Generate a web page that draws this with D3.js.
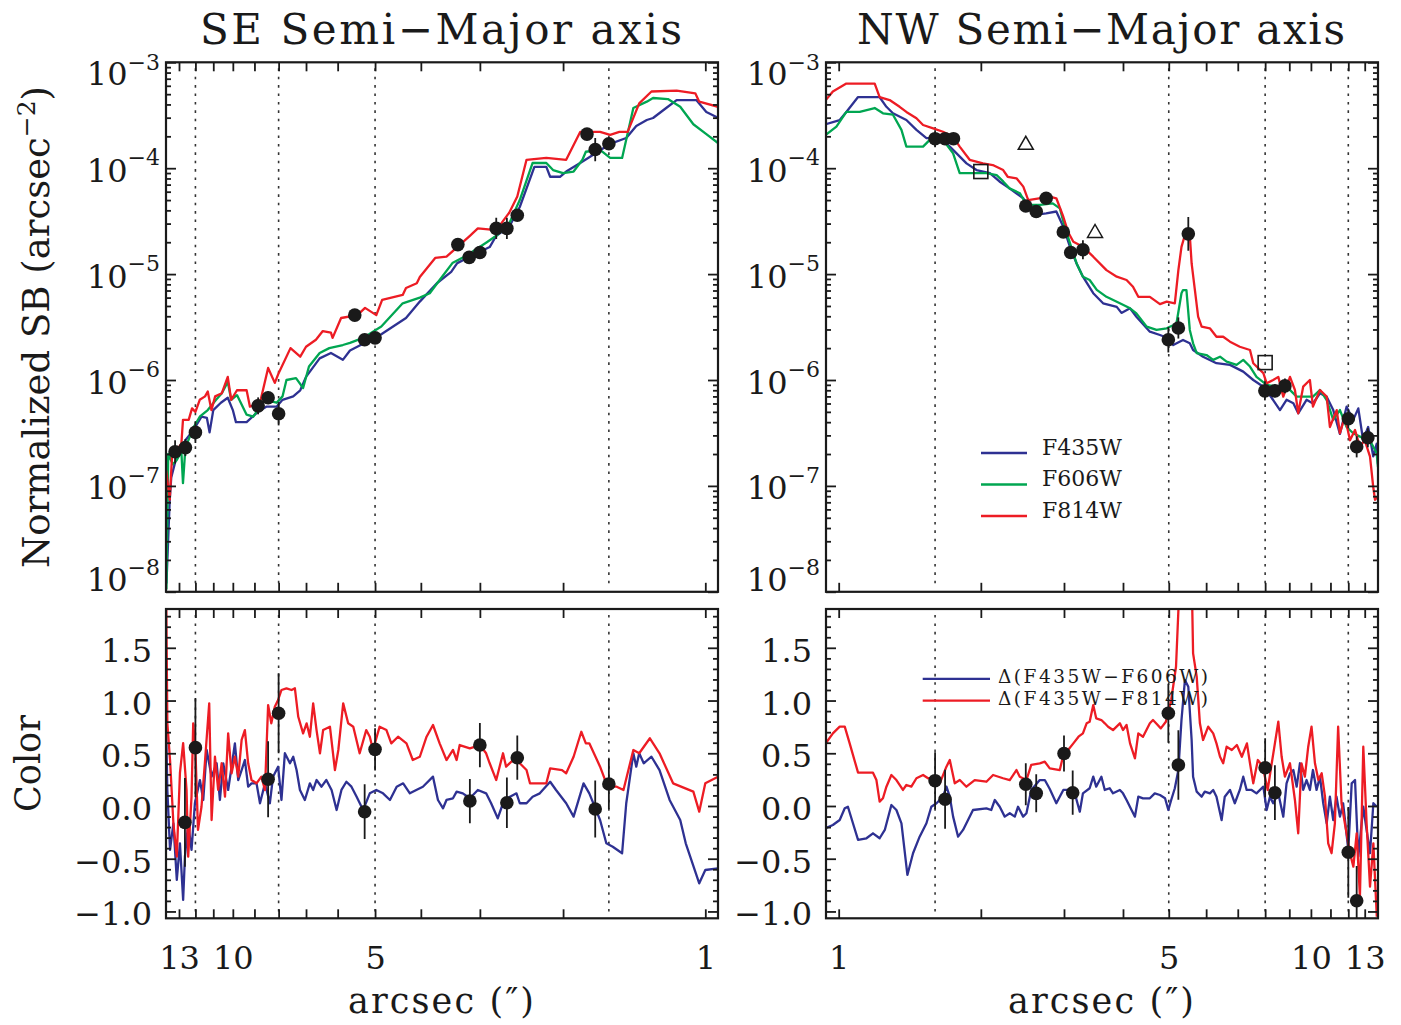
<!DOCTYPE html>
<html><head><meta charset="utf-8">
<script src="https://cdn.jsdelivr.net/npm/d3@7"></script>
<style>
body{margin:0;background:#fff;}
text{font-family:"DejaVu Serif",serif;fill:#1a1a1a;}
</style>
</head><body>
<svg id="c" width="1401" height="1025"></svg>
<script>
// ---------------- DATA ----------------
const xTickVals = [1,2,3,4,5,6,7,8,9,10,11,12,13];
const xLabelValsSE = [13,10,5,1];
const xLabelValsNW = [1,5,10,13];
const dottedR = [12, 8, 5, 1.6];
const sbTickVals = [1e-8,1e-7,1e-6,1e-5,1e-4,1e-3];
const sbTickExp = ["−8","−7","−6","−5","−4","−3"];
const colorTickVals = [-1.0,-0.5,0.0,0.5,1.0,1.5];
const legendSB = ["F435W","F606W","F814W"];
const legendColor = ["Δ(F435W−F606W)","Δ(F435W−F814W)"];

// SE semi-major axis, surface brightness [arcsec, SB]
const seF435 = [[13.82,1.2e-8],[13.6,7.4e-8],[13.5,1.2e-7],[13.15,1.9e-7],[12.6,2.7e-7],[12.1,3.4e-7],[11.65,4.5e-7],[11.35,4.4e-7],[11.2,3.2e-7],[11.0,5.2e-7],[10.6,6.1e-7],[10.25,6.8e-7],[10.0,5.2e-7],[9.85,4.0e-7],[9.35,4.0e-7],[8.9,4.9e-7],[8.5,5.6e-7],[8.08,5.6e-7],[7.85,6.5e-7],[7.45,7.0e-7],[7.2,8.0e-7],[7.0,1.07e-6],[6.55,1.6e-6],[6.2,1.8e-6],[5.85,1.55e-6],[5.65,1.9e-6],[5.3,2.2e-6],[4.85,2.7e-6],[4.3,3.85e-6],[4.02,5.5e-6],[3.7,8.2e-6],[3.45,1.05e-5],[3.35,1.27e-5],[3.15,1.46e-5],[2.86,1.8e-5],[2.77,2.3e-5],[2.6,2.8e-5],[2.47,4.3e-5],[2.3,1.03e-4],[2.17,1.03e-4],[2.13,8.3e-5],[2.03,8.3e-5],[1.97,9.3e-5],[1.84,1.12e-4],[1.7,1.4e-4],[1.59,1.7e-4],[1.47,1.93e-4],[1.4,2.5e-4],[1.33,2.85e-4],[1.29,2.98e-4],[1.21,3.7e-4],[1.15,4.4e-4],[1.045,4.4e-4],[0.995,3.4e-4],[0.94,3.0e-4]];
const seF606 = [[13.82,1.05e-8],[13.7,2.0e-7],[13.4,1.6e-7],[13.15,1.75e-7],[12.85,2.1e-7],[12.75,1.06e-7],[12.6,2.3e-7],[12.1,3.6e-7],[11.75,4.5e-7],[11.3,5.2e-7],[10.85,6.5e-7],[10.55,7.5e-7],[10.25,9.6e-7],[10.08,6.5e-7],[9.8,7.2e-7],[9.35,4.7e-7],[9.05,4.5e-7],[8.76,5.6e-7],[8.55,6.5e-7],[8.08,6.1e-7],[7.85,7.0e-7],[7.7,1.0e-6],[7.35,1.04e-6],[7.1,8.4e-7],[6.9,1.34e-6],[6.55,1.8e-6],[6.25,2.0e-6],[5.85,2.14e-6],[5.65,2.24e-6],[5.3,2.5e-6],[4.85,3.2e-6],[4.37,5.3e-6],[4.02,6.0e-6],[3.83,6.6e-6],[3.65,8.8e-6],[3.43,1.27e-5],[3.2,1.5e-5],[2.9,2.0e-5],[2.77,2.3e-5],[2.6,3.0e-5],[2.47,5.0e-5],[2.32,1.12e-4],[2.17,1.12e-4],[2.1,9.6e-5],[2.0,9.0e-5],[1.9,9.3e-5],[1.82,1.2e-4],[1.79,1.43e-4],[1.67,1.49e-4],[1.59,1.25e-4],[1.5,1.25e-4],[1.42,3.7e-4],[1.33,4.25e-4],[1.29,4.6e-4],[1.2,4.5e-4],[1.13,3.8e-4],[1.06,2.6e-4],[0.995,2.1e-4],[0.94,1.73e-4]];
const seF814 = [[13.84,1.4e-7],[13.6,7.4e-8],[13.45,1.9e-7],[12.85,2.5e-7],[12.75,4.2e-7],[12.4,4.2e-7],[12.2,5.4e-7],[12.0,5.0e-7],[11.75,6.5e-7],[11.45,7.0e-7],[11.3,7.8e-7],[11.1,5.2e-7],[10.9,7.0e-7],[10.55,7.5e-7],[10.25,1.07e-6],[10.08,6.5e-7],[9.8,8.0e-7],[9.35,8.0e-7],[9.2,5.6e-7],[8.76,6.1e-7],[8.42,1.3e-6],[8.15,9.4e-7],[8.0,1.16e-6],[7.55,2.0e-6],[7.2,1.66e-6],[7.0,2.06e-6],[6.67,2.4e-6],[6.45,2.9e-6],[6.2,2.8e-6],[6.15,2.5e-6],[5.9,3.85e-6],[5.45,4.1e-6],[5.25,4.8e-6],[4.97,4.1e-6],[4.83,5.7e-6],[4.37,6.35e-6],[4.3,7.4e-6],[4.08,8.2e-6],[4.02,9.4e-6],[3.73,1.42e-5],[3.53,1.46e-5],[3.15,2.3e-5],[3.03,2.7e-5],[2.77,2.6e-5],[2.6,3.8e-5],[2.5,5.4e-5],[2.39,1.2e-4],[2.17,1.25e-4],[1.97,1.2e-4],[1.84,2.2e-4],[1.67,2.2e-4],[1.59,2.06e-4],[1.52,2.2e-4],[1.46,2.2e-4],[1.38,4.1e-4],[1.3,5.3e-4],[1.15,5.4e-4],[1.05,5.1e-4],[1.03,4.25e-4],[0.94,3.8e-4]];
// SE photometric points
const seDotR  = [13.25,12.6,12.0,8.84,8.42,8.0,5.52,5.26,5.0,3.34,3.16,3.0,2.77,2.63,2.5,1.78,1.71,1.60];
const seDotSB = [2.1e-7,2.3e-7,3.2e-7,5.7e-7,6.8e-7,4.8e-7,4.1e-6,2.4e-6,2.5e-6,1.9e-5,1.44e-5,1.6e-5,2.7e-5,2.7e-5,3.6e-5,2.1e-4,1.5e-4,1.7e-4];
const seDotErr = [0.11,0.08,0.10,0.08,0.06,0.11,0.03,0.05,0.04,0.06,0.05,0.05,0.10,0.10,0.05,0.04,0.11,0.05]; // dex
// SE colour profiles [arcsec, colour]
const seC606 = [[13.84,0.752],[13.76,0.152],[13.58,-0.417],[13.36,-0.164],[13.14,-0.701],[12.94,-0.354],[12.74,-0.891],[12.63,-0.481],[12.43,-0.164],[12.23,-0.417],[12.03,0.026],[11.74,0.246],[11.55,0.057],[11.36,0.531],[11.09,0.278],[10.82,0.405],[10.65,0.057],[10.48,0.405],[10.23,0.152],[10.06,0.373],[9.9,0.594],[9.74,0.246],[9.58,0.341],[9.43,0.436],[9.28,0.183],[9.13,0.215],[8.91,0.215],[8.76,0.026],[8.55,0.215],[8.35,0.026],[8.22,0.278],[8.02,0.373],[7.89,0.057],[7.76,0.5],[7.57,0.405],[7.45,0.467],[7.33,0.341],[7.21,0.152],[7.04,0.057],[6.87,0.215],[6.76,0.152],[6.65,0.246],[6.49,0.183],[6.34,0.246],[6.18,0.152],[6.03,-0.038],[5.89,0.152],[5.75,0.23],[5.61,0.183],[5.47,0.088],[5.3,-0.038],[5.13,0.12],[4.97,0.152],[4.81,0.12],[4.65,0.057],[4.5,0.183],[4.36,0.215],[4.22,0.12],[4.09,0.152],[3.96,0.183],[3.77,0.278],[3.68,0.057],[3.59,-0.022],[3.53,0.057],[3.42,0.073],[3.36,0.136],[3.26,0.12],[3.15,0.073],[3.03,0.152],[2.91,0.12],[2.84,0.026],[2.75,-0.117],[2.68,0.026],[2.59,0.088],[2.51,0.12],[2.47,0.026],[2.39,0.026],[2.32,0.088],[2.24,0.12],[2.13,0.23],[2.07,0.152],[1.97,0.026],[1.9,-0.101],[1.81,0.215],[1.76,0.12],[1.67,-0.133],[1.62,-0.354],[1.57,-0.386],[1.5,-0.448],[1.47,0.026],[1.42,0.5],[1.4,0.373],[1.38,0.5],[1.35,0.405],[1.3,0.467],[1.25,0.341],[1.19,0.057],[1.13,-0.133],[1.1,-0.354],[1.03,-0.733],[1.0,-0.607],[0.94,-0.591]];
const seC814 = [[13.85,2.2],[13.76,0.784],[13.58,0.436],[13.36,-0.164],[13.14,-0.481],[12.94,0.313],[12.74,0.597],[12.53,0.152],[12.43,-0.481],[12.23,0.088],[12.13,0.784],[12.0,0.531],[11.85,-0.227],[11.65,-0.007],[11.46,0.408],[11.22,0.973],[11.09,-0.133],[10.91,0.467],[10.74,0.152],[10.56,0.405],[10.39,0.088],[10.23,0.689],[10.06,0.31],[9.9,0.467],[9.74,0.278],[9.58,0.626],[9.43,0.72],[9.28,0.405],[9.13,0.246],[8.91,0.215],[8.7,0.278],[8.55,0.152],[8.42,0.957],[8.29,0.784],[8.15,0.941],[8.02,1.005],[7.89,1.1],[7.7,1.116],[7.51,1.1],[7.39,1.116],[7.27,0.846],[7.1,0.689],[6.98,0.784],[6.87,0.657],[6.76,0.973],[6.65,0.72],[6.54,0.5],[6.44,0.72],[6.23,0.752],[6.08,0.341],[5.98,0.531],[5.84,0.973],[5.7,0.784],[5.56,0.752],[5.39,0.5],[5.22,0.72],[5.13,0.657],[5.05,0.531],[4.89,0.752],[4.73,0.72],[4.62,0.594],[4.47,0.657],[4.29,0.594],[4.16,0.436],[4.02,0.467],[3.89,0.657],[3.77,0.768],[3.65,0.594],[3.53,0.436],[3.42,0.531],[3.36,0.436],[3.31,0.578],[3.15,0.547],[3.0,0.578],[2.91,0.5],[2.86,0.405],[2.77,0.246],[2.68,0.5],[2.64,0.373],[2.51,0.467],[2.47,0.405],[2.39,0.341],[2.35,0.215],[2.17,0.215],[2.13,0.357],[2.01,0.341],[1.97,0.31],[1.9,0.467],[1.83,0.704],[1.79,0.594],[1.76,0.594],[1.67,0.373],[1.61,0.183],[1.54,0.183],[1.49,0.152],[1.42,0.531],[1.38,0.5],[1.31,0.642],[1.25,0.5],[1.17,0.215],[1.06,0.136],[1.03,-0.054],[1.0,0.215],[0.94,0.278]];
const seColR   = [12.63,12.0,8.42,8.0,5.26,5.0,3.15,3.0,2.63,2.5,1.71,1.6];
const seColV   = [-0.155,0.553,0.253,0.879,-0.054,0.537,0.047,0.578,0.031,0.458,-0.028,0.209];
const seColErr = [0.42,0.47,0.36,0.38,0.26,0.20,0.21,0.21,0.24,0.21,0.27,0.24];

// NW semi-major axis, surface brightness [arcsec, SB]
const nwF435 = [[0.939,2.6e-4],[1.005,2.85e-4],[1.038,3.4e-4],[1.099,4.7e-4],[1.22,4.7e-4],[1.262,3.8e-4],[1.303,3.3e-4],[1.391,2.85e-4],[1.461,2.3e-4],[1.534,1.92e-4],[1.6,1.92e-4],[1.663,1.85e-4],[1.747,1.49e-4],[1.865,1.11e-4],[1.958,9.6e-5],[2.09,9.0e-5],[2.19,7.5e-5],[2.3,6.45e-5],[2.46,5.2e-5],[2.58,3.6e-5],[2.75,3.75e-5],[2.89,3.9e-5],[2.99,2.8e-5],[3.09,1.8e-5],[3.19,1.26e-5],[3.29,9.45e-6],[3.46,6.6e-6],[3.63,5.3e-6],[3.88,4.9e-6],[3.97,4.3e-6],[4.14,4.75e-6],[4.27,3.96e-6],[4.56,2.86e-6],[4.79,2.66e-6],[4.99,2.48e-6],[5.11,2.14e-6],[5.36,2.39e-6],[5.54,2.22e-6],[5.63,1.92e-6],[5.91,1.66e-6],[6.31,1.44e-6],[6.74,1.39e-6],[7.19,1.2e-6],[7.55,1.0e-6],[7.93,8.65e-7],[8.32,6.47e-7],[8.6,5.2e-7],[8.88,6.5e-7],[9.18,6.03e-7],[9.4,4.85e-7],[9.79,6.5e-7],[10.1,6.0e-7],[10.45,7.5e-7],[10.8,6.96e-7],[11.15,5.2e-7],[11.52,3.1e-7],[11.9,5.6e-7],[12.29,4.2e-7],[12.6,5.4e-7],[12.9,2.7e-7],[13.22,3.6e-7],[13.55,1.9e-7],[13.78,2.5e-7],[13.87,1.6e-7]];
const nwF606 = [[0.939,2.06e-4],[0.989,2.47e-4],[1.038,3.4e-4],[1.108,3.4e-4],[1.192,3.7e-4],[1.241,3.3e-4],[1.303,3.2e-4],[1.358,2.3e-4],[1.391,1.6e-4],[1.509,1.6e-4],[1.559,1.85e-4],[1.663,1.85e-4],[1.747,1.38e-4],[1.804,9.0e-5],[2.055,9.0e-5],[2.16,8.6e-5],[2.23,7.5e-5],[2.3,6.45e-5],[2.42,5.8e-5],[2.5,4.5e-5],[2.67,4.5e-5],[2.84,4.66e-5],[2.94,4.18e-5],[3.01,2.8e-5],[3.09,1.95e-5],[3.19,1.26e-5],[3.29,9.45e-6],[3.4,8.8e-6],[3.52,7.1e-6],[3.69,6.1e-6],[3.94,5.3e-6],[4.14,4.75e-6],[4.27,4.26e-6],[4.49,3.19e-6],[4.71,2.97e-6],[4.95,3.08e-6],[5.19,3.4e-6],[5.32,6.6e-6],[5.36,7.07e-6],[5.45,7.07e-6],[5.54,2.97e-6],[5.63,2.22e-6],[5.73,1.79e-6],[6.01,1.72e-6],[6.21,1.55e-6],[6.42,1.66e-6],[6.63,1.49e-6],[6.96,1.39e-6],[7.19,1.55e-6],[7.43,1.34e-6],[7.67,1.07e-6],[8.06,9.0e-7],[8.46,8.65e-7],[8.88,8.65e-7],[9.33,6.96e-7],[10.1,6.96e-7],[10.45,8.05e-7],[10.8,6.47e-7],[11.15,4.2e-7],[11.52,5.2e-7],[11.9,3.6e-7],[12.29,3.14e-7],[12.7,2.92e-7],[13.1,2.7e-7],[13.45,2.5e-7],[13.78,2.03e-7],[13.87,1.5e-7]];
const nwF814 = [[0.939,4.4e-4],[0.972,5.3e-4],[1.038,6.3e-4],[1.192,6.3e-4],[1.221,4.7e-4],[1.282,4.4e-4],[1.346,3.8e-4],[1.391,3.4e-4],[1.461,2.96e-4],[1.509,2.56e-4],[1.585,2.38e-4],[1.663,2.21e-4],[1.747,1.98e-4],[1.804,1.6e-4],[1.894,1.2e-4],[2.02,1.11e-4],[2.12,1.07e-4],[2.23,9.6e-5],[2.28,8.3e-5],[2.38,8.03e-5],[2.46,6.7e-5],[2.52,5.0e-5],[2.8,5.38e-5],[2.89,5.2e-5],[2.99,3.48e-5],[3.06,2.5e-5],[3.14,2.02e-5],[3.29,1.81e-5],[3.46,1.46e-5],[3.69,1.09e-5],[3.88,9.45e-6],[4.07,8.8e-6],[4.2,7.6e-6],[4.31,6.1e-6],[4.56,6.1e-6],[4.79,5.2e-6],[4.95,5.5e-6],[5.15,5.3e-6],[5.24,1.09e-5],[5.32,1.81e-5],[5.41,2.34e-5],[5.54,2.34e-5],[5.59,1.26e-5],[5.68,7.07e-6],[5.77,3.96e-6],[5.87,3.19e-6],[6.11,3.08e-6],[6.31,2.56e-6],[6.52,2.56e-6],[6.74,2.3e-6],[7.07,2.06e-6],[7.43,1.92e-6],[7.55,1.44e-6],[7.93,1.16e-6],[8.06,9.3e-7],[8.32,1.0e-6],[8.53,1.07e-6],[8.74,6.96e-7],[9.03,1.07e-6],[9.25,8.05e-7],[9.4,4.85e-7],[9.63,8.65e-7],[9.95,1.0e-6],[10.1,5.6e-7],[10.45,8.05e-7],[10.8,6.96e-7],[10.97,3.6e-7],[11.34,5.2e-7],[11.52,3.14e-7],[11.8,4.5e-7],[12.1,2.7e-7],[12.4,3.37e-7],[12.7,2.34e-7],[13.0,2.7e-7],[13.34,1.89e-7],[13.55,9.8e-8],[13.67,7.4e-8],[13.87,8.0e-8]];
const nwDotR  = [1.6,1.68,1.75,2.49,2.62,2.75,2.99,3.1,3.29,4.99,5.24,5.5,7.99,8.39,8.81,12.0,12.5,13.2];
const nwDotSB = [1.9e-4,1.9e-4,1.9e-4,4.4e-5,3.9e-5,5.2e-5,2.5e-5,1.6e-5,1.7e-5,2.4e-6,3.1e-6,2.4e-5,7.9e-7,7.9e-7,8.8e-7,4.3e-7,2.34e-7,2.85e-7];
const nwDotErr = [0.08,0.05,0.04,0.04,0.06,0.03,0.03,0.03,0.09,0.12,0.10,0.16,0.09,0.06,0.07,0.09,0.10,0.09];
const nwSquareR = [2.0, 8.0];
const nwSquareSB = [9.3e-5, 1.46e-6];
const nwTriR = [2.49, 3.49];
const nwTriSB = [1.7e-4, 2.5e-5];
// NW colour profiles
const nwC606 = [[0.939,-0.211],[0.972,-0.18],[1.005,-0.133],[1.03,-0.022],[1.046,-0.007],[1.072,-0.164],[1.099,-0.322],[1.145,-0.306],[1.182,-0.259],[1.221,-0.306],[1.252,-0.227],[1.293,0.009],[1.325,-0.038],[1.358,-0.164],[1.398,-0.654],[1.437,-0.448],[1.484,-0.291],[1.534,-0.164],[1.571,-0.007],[1.611,0.026],[1.663,0.088],[1.691,0.183],[1.719,0.088],[1.747,-0.101],[1.79,-0.291],[1.834,-0.227],[1.925,-0.038],[2.055,-0.022],[2.104,-0.038],[2.141,0.057],[2.193,-0.007],[2.247,-0.101],[2.303,-0.069],[2.36,-0.101],[2.398,-0.007],[2.458,-0.101],[2.498,-0.069],[2.557,0.152],[2.666,0.246],[2.732,0.246],[2.799,0.161],[2.89,0.026],[2.99,0.152],[3.086,0.152],[3.162,0.12],[3.24,-0.054],[3.29,0.12],[3.4,0.168],[3.46,0.278],[3.51,0.183],[3.6,0.278],[3.66,0.152],[3.75,0.168],[3.81,0.12],[3.94,0.152],[4.0,0.12],[4.07,0.057],[4.17,-0.038],[4.24,-0.101],[4.31,0.088],[4.41,0.073],[4.56,0.073],[4.67,0.12],[4.79,0.104],[4.91,0.073],[4.99,-0.038],[5.06,0.057],[5.15,0.168],[5.24,0.341],[5.32,0.815],[5.41,1.194],[5.5,1.131],[5.59,0.626],[5.63,0.278],[5.73,0.136],[5.87,0.088],[5.96,0.136],[6.11,0.12],[6.21,0.152],[6.31,0.088],[6.47,-0.133],[6.57,0.088],[6.74,0.152],[6.9,0.026],[7.07,0.152],[7.19,0.278],[7.31,0.152],[7.49,0.152],[7.67,0.12],[7.93,0.183],[8.06,-0.038],[8.19,0.088],[8.32,0.026],[8.53,0.12],[8.74,-0.101],[8.88,0.215],[9.03,0.31],[9.18,0.341],[9.33,0.183],[9.48,0.405],[9.63,0.152],[9.79,0.246],[9.95,0.152],[10.1,0.341],[10.28,0.152],[10.45,0.278],[10.62,0.026],[10.8,-0.164],[10.97,0.088],[11.15,-0.133],[11.33,0.088],[11.52,-0.101],[11.7,0.026],[12.0,-0.417],[12.2,0.215],[12.4,0.246],[12.6,-0.481],[12.91,-0.007],[13.12,-0.227],[13.34,-0.448],[13.56,0.026],[13.79,-0.007]];
const nwC814 = [[0.939,0.594],[0.972,0.689],[1.005,0.752],[1.03,0.752],[1.055,0.594],[1.099,0.316],[1.182,0.316],[1.202,0.246],[1.221,0.041],[1.241,0.073],[1.262,0.183],[1.293,0.294],[1.325,0.246],[1.368,0.152],[1.391,0.199],[1.425,0.183],[1.461,0.263],[1.509,0.294],[1.546,0.263],[1.597,0.263],[1.637,0.215],[1.691,0.373],[1.719,0.436],[1.761,0.215],[1.805,0.246],[1.864,0.183],[1.941,0.246],[2.055,0.23],[2.123,0.294],[2.229,0.263],[2.303,0.246],[2.379,0.341],[2.418,0.278],[2.498,0.246],[2.557,0.389],[2.666,0.405],[2.732,0.42],[2.799,0.357],[2.939,0.341],[2.99,0.483],[3.06,0.531],[3.14,0.594],[3.22,0.657],[3.29,0.689],[3.35,0.784],[3.4,0.799],[3.46,0.957],[3.51,0.831],[3.6,0.815],[3.66,0.784],[3.72,0.752],[3.81,0.72],[3.94,0.784],[4.0,0.72],[4.07,0.768],[4.14,0.594],[4.24,0.452],[4.31,0.689],[4.41,0.657],[4.56,0.784],[4.63,0.815],[4.7,0.784],[4.81,0.736],[4.93,0.799],[5.06,1.005],[5.18,1.32],[5.28,2.2],[5.59,2.2],[5.63,1.447],[5.73,1.226],[5.82,0.784],[5.91,0.626],[6.06,0.752],[6.21,0.689],[6.31,0.594],[6.42,0.467],[6.52,0.405],[6.63,0.562],[6.8,0.531],[6.97,0.578],[7.14,0.467],[7.32,0.594],[7.43,0.405],[7.55,0.215],[7.72,0.436],[7.91,0.373],[8.1,0.152],[8.24,0.373],[8.39,0.594],[8.53,0.799],[8.67,0.467],[8.81,0.278],[9.03,0.405],[9.25,0.057],[9.4,-0.259],[9.55,0.405],[9.71,0.278],[9.87,0.562],[10.03,0.752],[10.2,0.405],[10.37,0.246],[10.54,0.31],[10.71,0.088],[10.88,-0.354],[11.06,-0.448],[11.24,-0.164],[11.42,0.752],[11.61,0.026],[11.8,-0.164],[12.1,-0.448],[12.3,-0.575],[12.5,-0.259],[12.7,-0.86],[12.91,0.562],[13.12,-0.164],[13.34,-0.765],[13.56,-0.354],[13.79,-1.05]];
const nwColR   = [1.6,1.68,2.49,2.62,3.0,3.13,4.99,5.24,8.0,8.39,12.0,12.5];
const nwColV   = [0.24,0.064,0.206,0.12,0.498,0.126,0.879,0.389,0.363,0.126,-0.439,-0.898];
const nwColErr = [0.27,0.28,0.20,0.18,0.17,0.21,0.28,0.33,0.28,0.26,0.43,0.33];

// ---------------- DRAW ----------------
const COL = {blue:"#2e3192", green:"#00a651", red:"#ed1c24", ink:"#1a1a1a"};
const svg = d3.select("#c");
svg.append("rect").attr("width",1401).attr("height",1025).attr("fill","#fff");

const X = {
  SE: d3.scaleLog().domain([13.85,0.94]).range([166,718]),
  NW: d3.scaleLog().domain([0.94,13.87]).range([826,1378])
};
const ySB = d3.scaleLog().domain([1e-8,1e-3]).range([591.8,62.3]);
const yC  = d3.scaleLinear().domain([-1.065,1.868]).range([918.3,609]);

const defs = svg.append("defs");
let clipId = 0;

function styleAxis(g, w){
  g.select(".domain").remove();
  g.selectAll("line").attr("stroke",COL.ink).attr("stroke-width",w||1.8);
  g.selectAll("text").remove();
}

function panel(side, kind){
  const x = X[side];
  const y = kind==="sb" ? ySB : yC;
  const [x0,x1] = x.range().slice().sort((a,b)=>a-b);
  const [y1,y0] = y.range();
  const id = "clip"+(clipId++);
  defs.append("clipPath").attr("id",id).append("rect")
    .attr("x",x0).attr("y",y0).attr("width",x1-x0).attr("height",y1-y0);
  const g = svg.append("g");
  const plot = g.append("g").attr("clip-path",`url(#${id})`);

  // dotted reference radii
  plot.selectAll("line.dot").data(dottedR).join("line")
    .attr("x1",d=>x(d)).attr("x2",d=>x(d)).attr("y1",y0+6).attr("y2",y1-4)
    .attr("stroke","#333").attr("stroke-width",1.6).attr("stroke-dasharray","2.6,5.8");

  // x ticks (top and bottom, inward)
  g.append("g").attr("transform",`translate(0,${y1})`)
    .call(d3.axisBottom(x).tickValues(xTickVals).tickSize(-9).tickFormat(""))
    .call(s=>styleAxis(s));
  g.append("g").attr("transform",`translate(0,${y0})`)
    .call(d3.axisTop(x).tickValues(xTickVals).tickSize(-9).tickFormat(""))
    .call(s=>styleAxis(s));

  // y ticks
  let major, minor;
  if(kind==="sb"){
    major = sbTickVals;
    minor = [];
    for(let k=-8;k<=-4;k++) for(let m=2;m<=9;m++) minor.push(m*Math.pow(10,k));
  } else {
    major = colorTickVals;
    minor = d3.range(-10,19).map(i=>i/10).filter(v=>Math.abs(v*2-Math.round(v*2))>1e-6);
  }
  [[major,10],[minor,5]].forEach(([vals,len])=>{
    g.append("g").attr("transform",`translate(${x0},0)`)
      .call(d3.axisLeft(y).tickValues(vals).tickSize(-len).tickFormat(""))
      .call(s=>styleAxis(s));
    g.append("g").attr("transform",`translate(${x1},0)`)
      .call(d3.axisRight(y).tickValues(vals).tickSize(-len).tickFormat(""))
      .call(s=>styleAxis(s));
  });

  // y labels
  if(kind==="sb"){
    const lx = side==="SE" ? 160 : 820;
    sbTickVals.forEach((v,i)=>{
      const ty = y(v);
      let b = ty+13.5, sb = ty-3;
      if(i===sbTickVals.length-1){ b = ty+23; sb = ty+8; }
      if(i===0){ b = ty-1; sb = ty-17; }
      const t = g.append("text").attr("text-anchor","end").attr("x",lx).attr("y",b);
      t.append("tspan").attr("font-size",32).text("10");
      t.append("tspan").attr("font-size",22).attr("dy",sb-b).text(sbTickExp[i]);
    });
  } else {
    const ax = g.append("g").attr("transform",`translate(${x0},0)`)
      .call(d3.axisLeft(y).tickValues(colorTickVals).tickSize(0).tickPadding(14).tickFormat(d3.format(".1f")));
    ax.select(".domain").remove();
    ax.selectAll("text").attr("font-family","DejaVu Serif").attr("font-size",32)
      .attr("fill",COL.ink).attr("dy",13.5);
    // bottom x labels
    const lv = side==="SE" ? xLabelValsSE : xLabelValsNW;
    const bx = g.append("g").attr("transform",`translate(0,${y1})`)
      .call(d3.axisBottom(x).tickValues(lv).tickSize(0).tickFormat(d3.format("d")));
    bx.select(".domain").remove();
    bx.selectAll("text").attr("font-family","DejaVu Serif").attr("font-size",32)
      .attr("fill",COL.ink).attr("y",50.5).attr("dy",0);
  }

  // frame
  g.append("rect").attr("x",x0).attr("y",y0).attr("width",x1-x0).attr("height",y1-y0)
    .attr("fill","none").attr("stroke",COL.ink).attr("stroke-width",2.2);
  return {g, plot, x, y};
}

function drawLine(p, data, color){
  p.plot.append("path").datum(data)
    .attr("d", d3.line().x(d=>p.x(d[0])).y(d=>p.y(d[1])))
    .attr("fill","none").attr("stroke",color).attr("stroke-width",2.3)
    .attr("stroke-linejoin","round");
}

function drawDots(p, rs, vs, errs, logErr){
  const pts = rs.map((r,i)=>({r, v:vs[i], e:errs[i]}));
  p.plot.selectAll(null).data(pts).join("line")
    .attr("x1",d=>p.x(d.r)).attr("x2",d=>p.x(d.r))
    .attr("y1",d=>logErr ? p.y(d.v*Math.pow(10,d.e)) : p.y(d.v+d.e))
    .attr("y2",d=>logErr ? p.y(d.v/Math.pow(10,d.e)) : p.y(d.v-d.e))
    .attr("stroke",COL.ink).attr("stroke-width",1.8);
  p.plot.selectAll(null).data(pts).join("circle")
    .attr("cx",d=>p.x(d.r)).attr("cy",d=>p.y(d.v)).attr("r",6.8).attr("fill",COL.ink);
}

// ---- SE ----
const seTop = panel("SE","sb");
drawLine(seTop, seF435, COL.blue);
drawLine(seTop, seF606, COL.green);
drawLine(seTop, seF814, COL.red);
drawDots(seTop, seDotR, seDotSB, seDotErr, true);

const seBot = panel("SE","color");
drawLine(seBot, seC606, COL.blue);
drawLine(seBot, seC814, COL.red);
drawDots(seBot, seColR, seColV, seColErr, false);

// ---- NW ----
const nwTop = panel("NW","sb");
drawLine(nwTop, nwF435, COL.blue);
drawLine(nwTop, nwF606, COL.green);
drawLine(nwTop, nwF814, COL.red);
drawDots(nwTop, nwDotR, nwDotSB, nwDotErr, true);
nwTop.plot.selectAll(null).data(nwSquareR.map((r,i)=>[r,nwSquareSB[i]])).join("rect")
  .attr("x",d=>nwTop.x(d[0])-7).attr("y",d=>nwTop.y(d[1])-7).attr("width",14).attr("height",14)
  .attr("fill","none").attr("stroke",COL.ink).attr("stroke-width",1.6);
nwTop.plot.selectAll(null).data(nwTriR.map((r,i)=>[r,nwTriSB[i]])).join("path")
  .attr("d",d=>{const cx=nwTop.x(d[0]), cy=nwTop.y(d[1]); return `M${cx-7.5},${cy+5.5}L${cx+7.5},${cy+5.5}L${cx},${cy-7.5}Z`;})
  .attr("fill","none").attr("stroke",COL.ink).attr("stroke-width",1.5);

const nwBot = panel("NW","color");
drawLine(nwBot, nwC606, COL.blue);
drawLine(nwBot, nwC814, COL.red);
drawDots(nwBot, nwColR, nwColV, nwColErr, false);

// ---- legends ----
const legSBColors = [COL.blue, COL.green, COL.red];
legendSB.forEach((name,i)=>{
  const ly = 453 + i*31.5;
  svg.append("line").attr("x1",981).attr("x2",1027).attr("y1",ly).attr("y2",ly)
    .attr("stroke",legSBColors[i]).attr("stroke-width",2.3);
  svg.append("text").attr("x",1042).attr("y",ly+1.5).attr("font-size",22).text(name);
});
const legCColors = [COL.blue, COL.red];
legendColor.forEach((name,i)=>{
  const ly = 678.8 + i*21.8;
  svg.append("line").attr("x1",922.7).attr("x2",990).attr("y1",ly).attr("y2",ly)
    .attr("stroke",legCColors[i]).attr("stroke-width",2.3);
  svg.append("text").attr("x",998).attr("y",ly+4).attr("font-size",18.5)
    .attr("textLength",210).attr("lengthAdjust","spacing").text(name);
});

// ---- titles & axis labels ----
svg.append("text").attr("x",441).attr("y",44).attr("text-anchor","middle")
  .attr("font-size",42).attr("textLength",482).attr("lengthAdjust","spacing").text("SE Semi−Major axis");
svg.append("text").attr("x",1101).attr("y",44).attr("text-anchor","middle")
  .attr("font-size",42).attr("textLength",488).attr("lengthAdjust","spacing").text("NW Semi−Major axis");

const yl = svg.append("text").attr("transform","translate(49,327) rotate(-90)")
  .attr("text-anchor","middle").attr("font-size",37);
yl.append("tspan").text("Normalized SB (arcsec");
yl.append("tspan").attr("font-size",25).attr("dy",-14).text("−2");
yl.append("tspan").attr("dy",14).text(")");

svg.append("text").attr("transform","translate(40,763.5) rotate(-90)")
  .attr("text-anchor","middle").attr("font-size",35).text("Color");

[441, 1101].forEach(cx=>{
  svg.append("text").attr("x",cx).attr("y",1013).attr("text-anchor","middle")
    .attr("font-size",35).attr("textLength",186).attr("lengthAdjust","spacing").text("arcsec (″)");
});
</script>
</body></html>
